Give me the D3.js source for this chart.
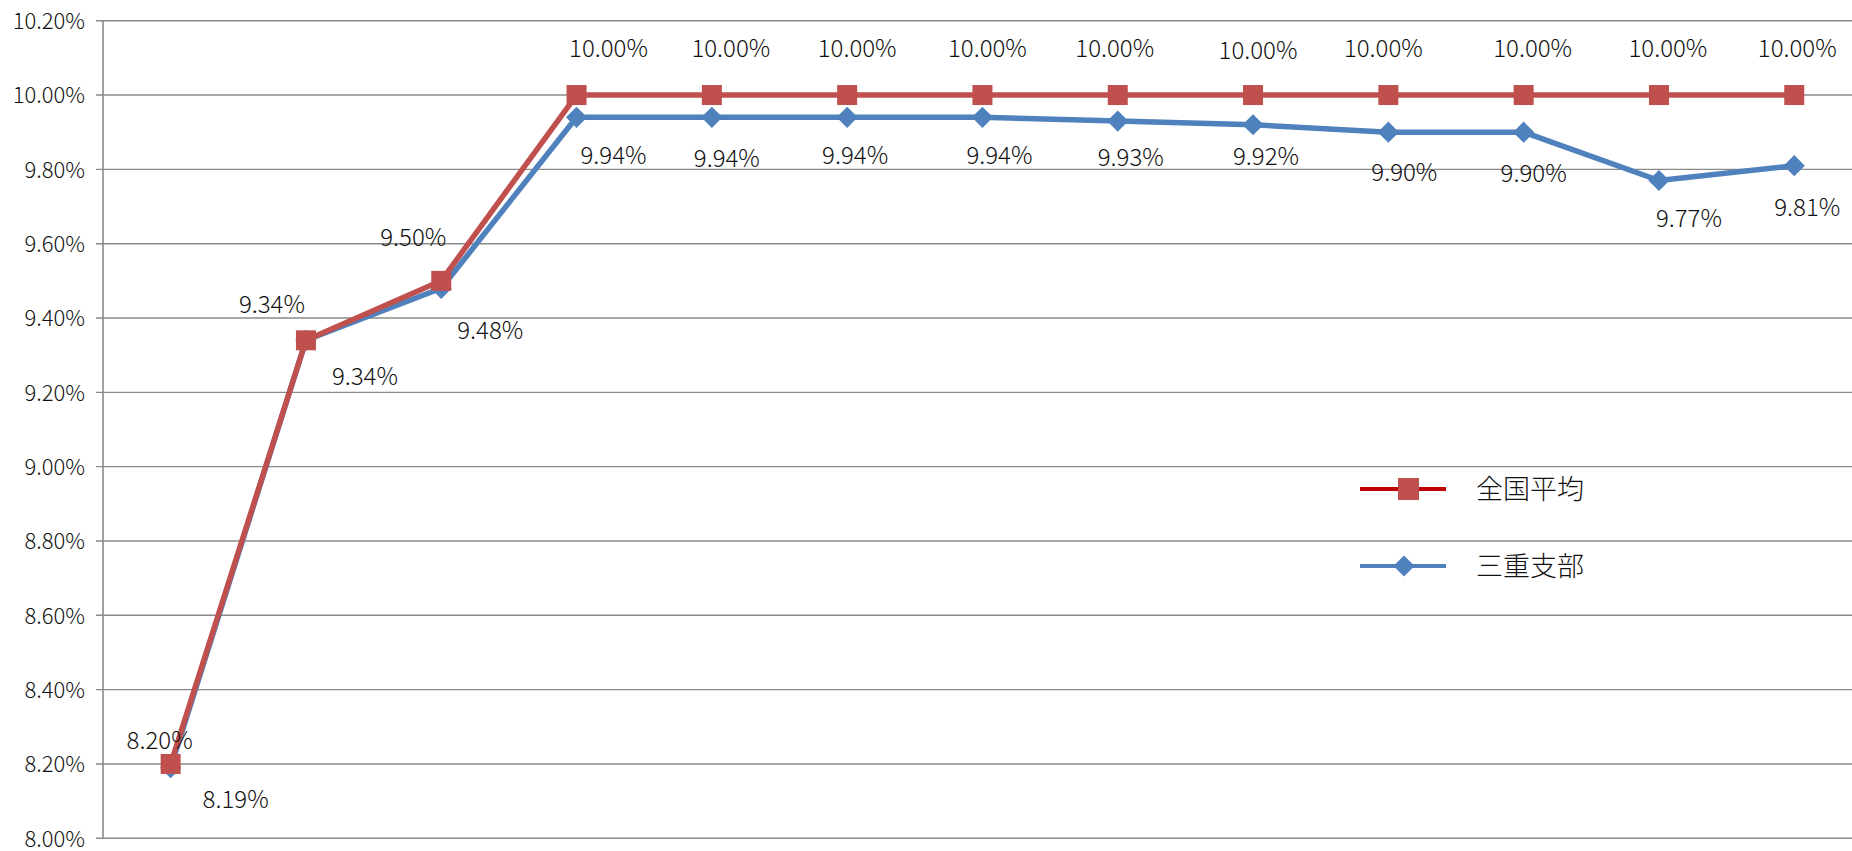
<!DOCTYPE html>
<html>
<head>
<meta charset="utf-8">
<script src="https://cdn.jsdelivr.net/npm/d3@7"></script>
<style>
  html, body { margin: 0; padding: 0; background: #fff; }
  svg { display: block; }
  text { font-family: "Noto Sans CJK JP", "Noto Sans", sans-serif; font-weight: 300; fill: #111; }
</style>
</head>
<body>
<svg id="chart" width="1852" height="851"></svg>
<script>
// ---- data ----
const categories = ["1", "2", "3", "4", "5", "6", "7", "8", "9", "10", "11", "12", "13"];
const seriesNames = ["全国平均", "三重支部"];
const nationalAvg = [8.20, 9.34, 9.50, 10.00, 10.00, 10.00, 10.00, 10.00, 10.00, 10.00, 10.00, 10.00, 10.00];
const mieBranch   = [8.19, 9.34, 9.48, 9.94, 9.94, 9.94, 9.94, 9.93, 9.92, 9.90, 9.90, 9.77, 9.81];
const yTicks = [8.0, 8.2, 8.4, 8.6, 8.8, 9.0, 9.2, 9.4, 9.6, 9.8, 10.0, 10.2];

// ---- layout (label nudges relative to each point, in px) ----
const redLabelDx  = [-11, -34, -28, 32, 19, 10, 5, -3, 5, -5, 9, 9, 3];
const redLabelDy  = [-24, -36, -43, -47, -47, -47, -47, -47, -45, -47, -47, -47, -47];
const blueLabelDx = [65, 59, 49, 37, 15, 8, 17, 13, 13, 16, 10, 30, 13];
const blueLabelDy = [32, 36, 42, 38, 41, 38, 38, 36, 32, 40, 41, 38, 42];

(function () {
const W = 1852, H = 851;
const plotLeft = 103, plotTop = 20.7, plotBottom = 838.3;
const band = 135.3;

const svg = d3.select("#chart");
svg.append("rect").attr("width", W).attr("height", H).attr("fill", "#fff");

const x = d3.scaleBand().domain(categories).range([plotLeft, plotLeft + band * categories.length]).padding(0);
const y = d3.scaleLinear().domain([8.0, 10.2]).range([plotBottom, plotTop]);
const px = (i) => x(categories[i]) + x.bandwidth() / 2;

// gridlines
svg.append("g").selectAll("line").data(yTicks).join("line")
  .attr("x1", plotLeft - 7).attr("x2", W)
  .attr("y1", d => y(d)).attr("y2", d => y(d))
  .attr("stroke", "#8a8a8a").attr("stroke-width", 1.4);

// y axis
const yAxis = d3.axisLeft(y).tickValues(yTicks).tickSize(0).tickPadding(0)
  .tickFormat(d => d.toFixed(2) + "%");
const ya = svg.append("g").attr("transform", `translate(${plotLeft},0)`).call(yAxis);
ya.select(".domain").remove();
ya.selectAll("text").attr("x", -18).attr("dy", "0.36em")
  .style("font-size", "22px").attr("fill", "#111");
svg.append("line").attr("x1", plotLeft).attr("x2", plotLeft).attr("y1", plotTop).attr("y2", plotBottom)
  .attr("stroke", "#8a8a8a").attr("stroke-width", 1.6);

const red = "#C0504D", blue = "#4F81BD";
const line = d3.line().x((d, i) => px(i)).y(d => y(d));

// blue series
svg.append("path").datum(mieBranch).attr("d", line)
  .attr("fill", "none").attr("stroke", blue).attr("stroke-width", 5.5).attr("stroke-linejoin", "round");
svg.append("g").selectAll("rect").data(mieBranch).join("rect")
  .attr("width", 15).attr("height", 15).attr("x", -7.5).attr("y", -7.5)
  .attr("transform", (d, i) => `translate(${px(i)},${y(d)}) rotate(45)`)
  .attr("fill", blue);

// red series
svg.append("path").datum(nationalAvg).attr("d", line)
  .attr("fill", "none").attr("stroke", red).attr("stroke-width", 5.5).attr("stroke-linejoin", "round");
svg.append("g").selectAll("rect").data(nationalAvg).join("rect")
  .attr("width", 20).attr("height", 20)
  .attr("x", (d, i) => px(i) - 10).attr("y", d => y(d) - 10)
  .attr("fill", red);

// data labels
svg.append("g").selectAll("text").data(nationalAvg).join("text")
  .attr("x", (d, i) => px(i) + redLabelDx[i])
  .attr("y", (d, i) => y(d) + redLabelDy[i])
  .attr("text-anchor", "middle").attr("dy", "0.36em")
  .style("font-size", "24px")
  .text(d => d.toFixed(2) + "%");
svg.append("g").selectAll("text").data(mieBranch).join("text")
  .attr("x", (d, i) => px(i) + blueLabelDx[i])
  .attr("y", (d, i) => y(d) + blueLabelDy[i])
  .attr("text-anchor", "middle").attr("dy", "0.36em")
  .style("font-size", "24px")
  .text(d => d.toFixed(2) + "%");

// legend
const lg = svg.append("g");
const legendItems = [
  { name: seriesNames[0], lineColor: "#C00000", fill: red, shape: "square", ly: 489 },
  { name: seriesNames[1], lineColor: blue, fill: blue, shape: "diamond", ly: 566 }
];
legendItems.forEach(it => {
  lg.append("line").attr("x1", 1360).attr("x2", 1446).attr("y1", it.ly).attr("y2", it.ly)
    .attr("stroke", it.lineColor).attr("stroke-width", 4);
  if (it.shape === "square") {
    lg.append("rect").attr("x", 1398).attr("y", it.ly - 11).attr("width", 21).attr("height", 22).attr("fill", it.fill);
  } else {
    lg.append("rect").attr("width", 15).attr("height", 15).attr("x", -7.5).attr("y", -7.5)
      .attr("transform", `translate(1404,${it.ly}) rotate(45)`).attr("fill", it.fill);
  }
  lg.append("text").attr("x", 1476).attr("y", it.ly).attr("dy", "0.36em")
    .style("font-size", "27px").text(it.name);
});
})();
</script>
</body>
</html>
